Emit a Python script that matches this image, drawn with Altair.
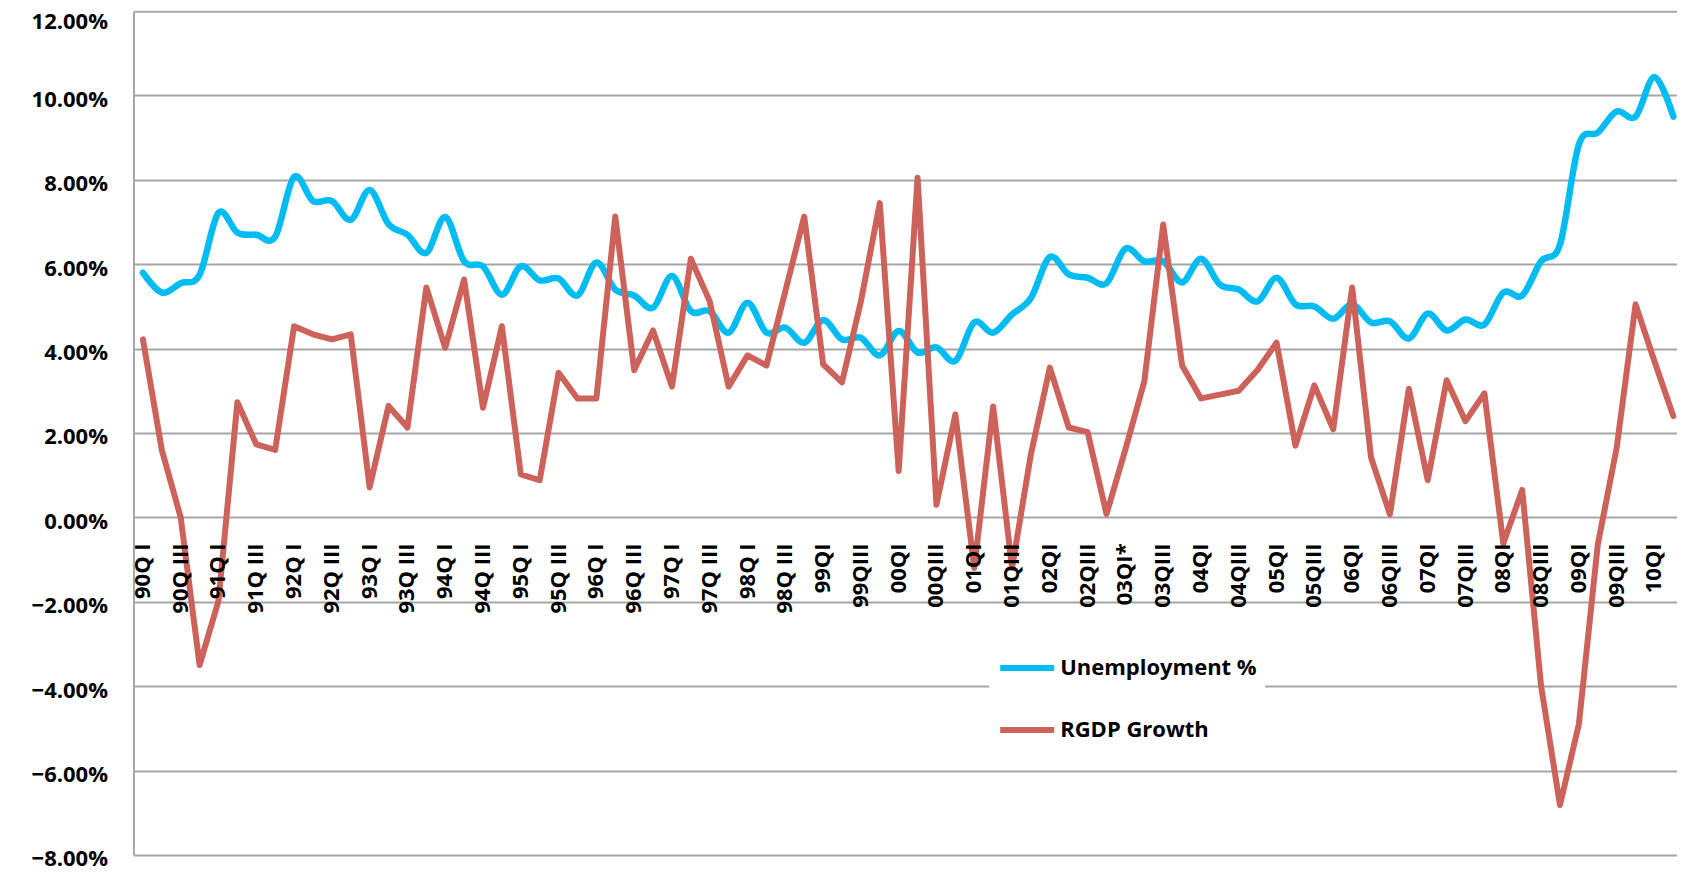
import altair as alt
import pandas as pd

# ---- data (quarterly, 1990 Q1 .. 2010 Q2) ----
tick_labels = [
    "90Q I", "90Q III", "91Q I", "91Q III", "92Q I", "92Q III", "93Q I", "93Q III",
    "94Q I", "94Q III", "95Q I", "95Q III", "96Q I", "96Q III", "97Q I", "97Q III",
    "98Q I", "98Q III", "99QI", "99QIII", "00QI", "00QIII", "01QI", "01QIII",
    "02QI", "02QIII", "03QI*", "03QIII", "04QI", "04QIII", "05QI", "05QIII",
    "06QI", "06QIII", "07QI", "07QIII", "08QI", "08QIII", "09QI", "09QIII", "10QI",
]

unemployment = [
    5.80, 5.33, 5.55, 5.75, 7.22, 6.75, 6.70, 6.65, 8.07, 7.50,
    7.50, 7.05, 7.76, 6.95, 6.70, 6.27, 7.12, 6.07, 5.95, 5.28,
    5.95, 5.62, 5.66, 5.26, 6.04, 5.40, 5.26, 4.97, 5.72, 4.89,
    4.89, 4.38, 5.09, 4.38, 4.50, 4.14, 4.68, 4.22, 4.26, 3.84,
    4.42, 3.91, 4.03, 3.71, 4.62, 4.38, 4.81, 5.20, 6.17, 5.76,
    5.68, 5.55, 6.37, 6.07, 6.07, 5.57, 6.13, 5.52, 5.40, 5.12,
    5.68, 5.05, 5.00, 4.71, 5.05, 4.62, 4.65, 4.24, 4.83, 4.43,
    4.69, 4.57, 5.33, 5.26, 6.07, 6.47, 8.84, 9.12, 9.62, 9.50,
    10.44, 9.50,
]

rgdp_growth = [
    4.22, 1.60, 0.00, -3.50, -1.98, 2.73, 1.73, 1.60, 4.53, 4.34,
    4.22, 4.34, 0.71, 2.64, 2.13, 5.45, 4.02, 5.64, 2.60, 4.53,
    1.02, 0.88, 3.43, 2.82, 2.82, 7.13, 3.49, 4.43, 3.10, 6.13,
    5.12, 3.10, 3.84, 3.60, 5.36, 7.13, 3.63, 3.20, 5.12, 7.45,
    1.10, 8.05, 0.30, 2.44, -1.20, 2.63, -1.20, 1.50, 3.55, 2.13,
    2.02, 0.08, 1.61, 3.22, 6.94, 3.60, 2.82, 2.91, 3.00, 3.50,
    4.14, 1.70, 3.13, 2.09, 5.45, 1.42, 0.07, 3.05, 0.88, 3.25,
    2.28, 2.94, -0.62, 0.65, -4.00, -6.82, -4.90, -0.65, 1.65, 5.05,
    3.70, 2.40,
]

series_names = ["Unemployment %", "RGDP Growth"]
series_colors = ["#00BCF2", "#CC6259"]
y_ticks = [-8, -6, -4, -2, 0, 2, 4, 6, 8, 10, 12]

n = len(unemployment)
df_u = pd.DataFrame({"i": list(range(n)), "v": unemployment, "series": series_names[0]})
df_r = pd.DataFrame({"i": list(range(n)), "v": rgdp_growth, "series": series_names[1]})
df_l = pd.DataFrame({
    "i": [2 * k for k in range(len(tick_labels))],
    "label": tick_labels,
    "zero": [0] * len(tick_labels),
})

FONT = "Open Sans"
STEP = 18.9
W = 1544
H = 844
GRID = "#A6A6A6"

x_scale = alt.Scale(domain=[-0.5, -0.5 + W / STEP], nice=False, zero=False)
y_scale = alt.Scale(domain=[-8, 12], nice=False, zero=False)
color_scale = alt.Scale(domain=series_names, range=series_colors)

legend = alt.Legend(
    orient="none", legendX=856, legendY=619, title=None,
    symbolType="stroke", symbolSize=2916, symbolStrokeWidth=6,
    labelFont=FONT, labelFontSize=22, labelFontWeight="bold", labelColor="black",
    labelOffset=3, fillColor="white", padding=8, rowPadding=20, labelLimit=400,
)

y_axis = alt.Axis(
    values=y_ticks, labelExpr="format(datum.value, '.2f') + '%'",
    grid=True, gridColor=GRID, gridWidth=2,
    domain=True, domainColor=GRID, domainWidth=2,
    ticks=False, labelFont=FONT, labelFontSize=22, labelFontWeight="bold",
    labelColor="black", labelPadding=26,
    labelOffset={"condition": {"test": "datum.value == 12", "value": 10}, "value": 4},
    title=None,
)

blue = alt.Chart(df_u).mark_line(
    interpolate="cardinal", strokeWidth=6.5, strokeCap="round", strokeJoin="round"
).encode(
    x=alt.X("i:Q", scale=x_scale, axis=None),
    y=alt.Y("v:Q", scale=y_scale, axis=y_axis),
    color=alt.Color("series:N", scale=color_scale, legend=legend),
)

red = alt.Chart(df_r).mark_line(
    strokeWidth=6, strokeCap="round", strokeJoin="round"
).encode(
    x=alt.X("i:Q", scale=x_scale, axis=None),
    y=alt.Y("v:Q", scale=y_scale, axis=y_axis),
    color=alt.Color("series:N", scale=color_scale, legend=legend),
)

labels = alt.Chart(df_l).mark_text(
    angle=270, align="right", baseline="middle", dx=-26,
    font=FONT, fontSize=22, fontWeight="bold", color="black",
).encode(
    x=alt.X("i:Q", scale=x_scale, axis=None),
    y=alt.Y("zero:Q", scale=y_scale, axis=y_axis),
    text="label:N",
)

chart = alt.layer(blue, red, labels).properties(
    width=W, height=H,
    autosize=alt.AutoSizeParams(type="none"),
    padding={"left": 125.5, "top": 3, "right": 0, "bottom": 18},
    background="white",
).configure_view(stroke=None)

chart.save("out.html", embed_options={"renderer": "svg", "actions": False})
